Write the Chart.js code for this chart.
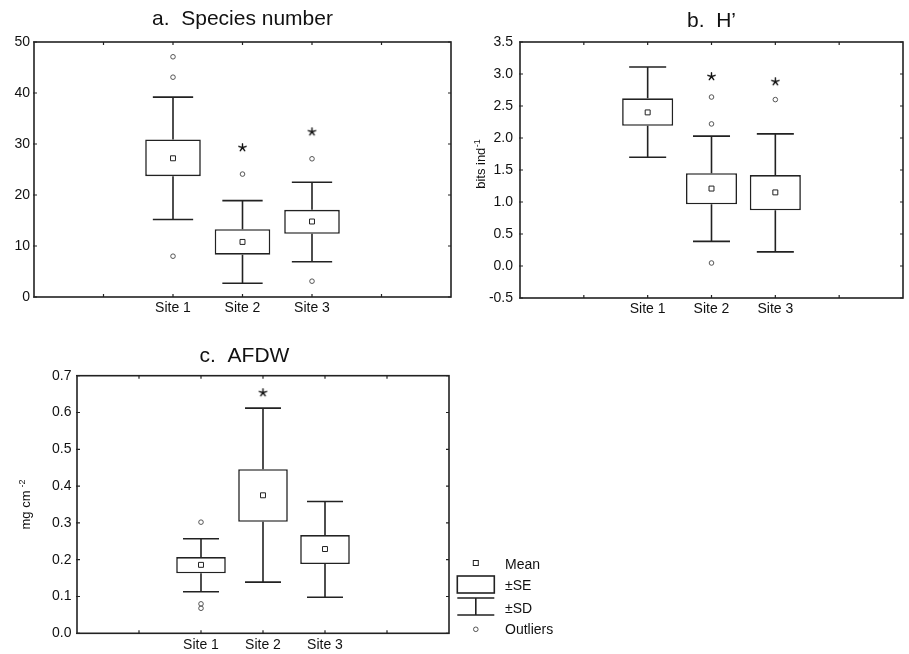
<!DOCTYPE html>
<html>
<head>
<meta charset="utf-8">
<script src="https://cdn.jsdelivr.net/npm/chart.js@4.4.1/dist/chart.umd.min.js"></script>
<style>
html,body{margin:0;padding:0;background:#fff;}
body{width:909px;height:654px;position:relative;overflow:hidden;}
.panel{position:absolute;}
#boxA{left:0;top:0;width:460px;height:325px;}
#boxB{left:455px;top:0;width:454px;height:325px;}
#boxC{left:0;top:330px;width:600px;height:324px;}
</style>
</head>
<body>
<div class="panel" id="boxA"><canvas id="chartA"></canvas></div>
<div class="panel" id="boxB"><canvas id="chartB"></canvas></div>
<div class="panel" id="boxC"><canvas id="chartC"></canvas></div>
<script>
// categories sit at x = 2,3,4 on a 0..6 axis (ticks every 1)
const sites = ['Site 1', 'Site 2', 'Site 3'];
const siteX = [2, 3, 4];

// a. Species number
const spMean = [27.2, 10.8, 14.8];
const spSeLo = [23.7, 8.3, 12.4];
const spSeHi = [30.9, 13.3, 17.1];
const spSdLo = [15.2, 2.7, 6.9];
const spSdHi = [39.2, 18.9, 22.5];
const spOut = [[47.1, 43.1, 8.0], [24.1], [27.1, 3.1]];
const spStar = [null, 29.3, 32.4];

// b. H'
const hMean = [2.40, 1.21, 1.15];
const hSeLo = [2.19, 0.965, 0.87];
const hSeHi = [2.62, 1.45, 1.42];
const hSdLo = [1.70, 0.385, 0.22];
const hSdHi = [3.11, 2.03, 2.065];
const hOut = [[], [2.64, 2.22, 0.047], [2.60]];
const hStar = [null, 2.96, 2.88];

// c. AFDW
const afMean = [0.186, 0.375, 0.229];
const afSeLo = [0.163, 0.303, 0.188];
const afSeHi = [0.207, 0.446, 0.267];
const afSdLo = [0.113, 0.139, 0.098];
const afSdHi = [0.257, 0.612, 0.358];
const afOut = [[0.302, 0.080, 0.068], [], []];
const afStar = [null, 0.654, null];

const FONT = '"Liberation Sans", Arial, Helvetica, sans-serif';
const LINE = '#222';
Chart.defaults.font.family = FONT;

function asterisk(){
	const c = document.createElement('canvas');
	c.width = 11; c.height = 11;
	const g = c.getContext('2d');
	g.strokeStyle = '#111'; g.lineWidth = 1.4; g.lineCap = 'round';
	g.beginPath();
	for (let k = 0; k < 5; k++) {
		const ang = -Math.PI / 2 + k * 2 * Math.PI / 5;
		g.moveTo(5.5, 5.5);
		g.lineTo(5.5 + 3.8 * Math.cos(ang), 5.5 + 3.8 * Math.sin(ang));
	}
	g.stroke();
	return c;
}
const STAR = asterisk();

// whiskers from SE box edge to SD, with caps
const whiskerPlugin = {
	id: 'whiskers',
	afterDatasetsDraw(chart, args, opts) {
		const {ctx, scales: {x, y}} = chart;
		ctx.save();
		ctx.strokeStyle = LINE;
		ctx.lineWidth = 1.6;
		siteX.forEach((sx, i) => {
			const px = x.getPixelForValue(sx);
			const half = x.getPixelForValue(sx + 0.29) - px;
			[[opts.seLo[i], opts.sdLo[i]], [opts.seHi[i], opts.sdHi[i]]].forEach(([from, to]) => {
				const p0 = y.getPixelForValue(from), p1 = y.getPixelForValue(to);
				ctx.beginPath();
				ctx.moveTo(px, p0); ctx.lineTo(px, p1);
				ctx.moveTo(px - half, p1); ctx.lineTo(px + half, p1);
				ctx.stroke();
			});
		});
		ctx.restore();
	}
};

// closed frame with small inward ticks on all four sides
const framePlugin = {
	id: 'frame',
	afterDraw(chart) {
		const {ctx, chartArea: a, scales: {x, y}} = chart;
		ctx.save();
		ctx.strokeStyle = LINE;
		ctx.lineWidth = 1.6;
		ctx.strokeRect(a.left, a.top, a.right - a.left, a.bottom - a.top);
		ctx.lineWidth = 1.2;
		ctx.beginPath();
		x.ticks.forEach(t => {
			if (t.value <= x.min || t.value >= x.max) return;
			const px = x.getPixelForValue(t.value);
			ctx.moveTo(px, a.bottom); ctx.lineTo(px, a.bottom - 3);
			ctx.moveTo(px, a.top); ctx.lineTo(px, a.top + 3);
		});
		y.ticks.forEach(t => {
			const py = y.getPixelForValue(t.value);
			ctx.moveTo(a.left - 1, py); ctx.lineTo(a.left + 3, py);
			ctx.moveTo(a.right, py); ctx.lineTo(a.right - 3, py);
		});
		ctx.stroke();
		ctx.restore();
	}
};

// rotated unit label with superscript
const unitPlugin = {
	id: 'unitLabel',
	afterDraw(chart, args, opts) {
		if (!opts.main) return;
		const {ctx, chartArea: a} = chart;
		ctx.save();
		ctx.translate(a.left + opts.dx, (a.top + a.bottom) / 2 + opts.dy);
		ctx.rotate(-Math.PI / 2);
		ctx.fillStyle = '#111';
		ctx.textBaseline = 'alphabetic';
		ctx.font = '13px ' + FONT;
		const w1 = ctx.measureText(opts.main).width;
		ctx.font = '9px ' + FONT;
		const w2 = ctx.measureText(opts.sup).width;
		const start = -(w1 + w2 + opts.gap) / 2;
		ctx.font = '13px ' + FONT;
		ctx.fillText(opts.main, start, 4.5);
		ctx.font = '9px ' + FONT;
		ctx.fillText(opts.sup, start + w1 + opts.gap, 0);
		ctx.restore();
	}
};

// key: Mean / ±SE / ±SD / Outliers
const keyPlugin = {
	id: 'boxKey',
	afterDraw(chart, args, opts) {
		if (!opts.show) return;
		const {ctx, chartArea: a} = chart;
		const x0 = a.right + 8.3, x1 = a.right + 45.3, cx = (x0 + x1) / 2, tx = a.right + 56;
		const b = a.bottom;
		ctx.save();
		ctx.strokeStyle = LINE;
		ctx.fillStyle = '#fff';
		ctx.lineWidth = 1;
		ctx.strokeRect(cx - 2.5, b - 72.8, 5, 5);
		ctx.lineWidth = 1.6;
		ctx.strokeRect(x0, b - 57.3, x1 - x0, 17);
		ctx.beginPath();
		ctx.moveTo(x0, b - 35.3); ctx.lineTo(x1, b - 35.3);
		ctx.moveTo(cx, b - 35.3); ctx.lineTo(cx, b - 18.3);
		ctx.moveTo(x0, b - 18.3); ctx.lineTo(x1, b - 18.3);
		ctx.stroke();
		ctx.lineWidth = 0.9;
		ctx.strokeStyle = '#444';
		ctx.beginPath();
		ctx.arc(cx, b - 4, 2.3, 0, Math.PI * 2);
		ctx.stroke();
		ctx.fillStyle = '#111';
		ctx.font = '14px ' + FONT;
		ctx.textBaseline = 'middle';
		ctx.fillText('Mean', tx, b - 68);
		ctx.fillText('\u00b1SE', tx, b - 47);
		ctx.fillText('\u00b1SD', tx, b - 24.5);
		ctx.fillText('Outliers', tx, b - 3.5);
		ctx.restore();
	}
};

function boxPanel(id, p){
	const outPts = [];
	p.out.forEach((vals, i) => vals.forEach(v => outPts.push({x: siteX[i], y: v})));
	const starPts = [];
	p.star.forEach((v, i) => { if (v !== null) starPts.push({x: siteX[i], y: v}); });
	return new Chart(document.getElementById(id), {
		type: 'bar',
		data: {
			datasets: [
				{
					type: 'bar',
					order: 1,
					data: siteX.map((x, i) => ({x: x, y: [p.seLo[i], p.seHi[i]]})),
					backgroundColor: '#fff',
					borderColor: LINE,
					borderWidth: 1.6,
					borderSkipped: false,
					categoryPercentage: 1,
					barPercentage: 0.8
				},
				{
					type: 'scatter',
					order: 0,
					data: siteX.map((x, i) => ({x: x, y: p.mean[i]})),
					pointStyle: 'rect',
					pointRadius: 3.5,
					pointBorderWidth: 1,
					pointBorderColor: LINE,
					pointBackgroundColor: '#fff'
				},
				{
					type: 'scatter',
					order: 0,
					data: outPts,
					pointStyle: 'circle',
					pointRadius: 2.3,
					pointBorderWidth: 0.9,
					pointBorderColor: '#444',
					pointBackgroundColor: 'rgba(255,255,255,0)'
				},
				{
					type: 'scatter',
					order: 0,
					data: starPts,
					pointStyle: STAR,
					pointRadius: 5
				}
			]
		},
		options: {
			responsive: true,
			maintainAspectRatio: false,
			animation: false,
			events: [],
			layout: {padding: {left: p.padL, right: p.padR, top: 0, bottom: 0}},
			scales: {
				x: {
					type: 'linear', min: 0, max: 6, offset: false,
					grid: {display: false, drawTicks: false}, border: {display: false},
					ticks: {
						stepSize: 1, autoSkip: false, maxRotation: 0, padding: 3,
						color: '#111', font: {size: 14},
						callback: v => { const i = siteX.indexOf(v); return i < 0 ? '' : sites[i]; }
					},
					afterFit: s => { s.height = p.xH; }
				},
				y: {
					type: 'linear', min: p.yMin, max: p.yMax,
					grid: {display: false, drawTicks: false}, border: {display: false},
					ticks: {
						stepSize: p.yStep, padding: p.yPad, color: '#111', font: {size: 14},
						callback: v => v.toFixed(p.dec)
					},
					afterFit: s => { s.width = p.yW; }
				}
			},
			plugins: {
				legend: {display: false},
				tooltip: {enabled: false},
				title: {
					display: true, text: p.title, fullSize: p.fullSize, color: '#111',
					font: {size: 21, weight: 'normal'},
					padding: {top: p.tTop, bottom: p.tBot}
				},
				whiskers: {seLo: p.seLo, seHi: p.seHi, sdLo: p.sdLo, sdHi: p.sdHi},
				unitLabel: p.unit || {},
				boxKey: {show: !!p.key}
			}
		},
		plugins: [whiskerPlugin, framePlugin, unitPlugin, keyPlugin]
	});
}

boxPanel('chartA', {
	title: 'a.  Species number', mean: spMean, seLo: spSeLo, seHi: spSeHi, sdLo: spSdLo, sdHi: spSdHi,
	out: spOut, star: spStar, yMin: 0, yMax: 50, yStep: 10, dec: 0,
	padL: 0, padR: 9, yW: 34, yPad: 4, xH: 28, tTop: 6.4, tBot: 10.4, fullSize: false
});
boxPanel('chartB', {
	title: 'b.  H\u2019', mean: hMean, seLo: hSeLo, seHi: hSeHi, sdLo: hSdLo, sdHi: hSdHi,
	out: hOut, star: hStar, yMin: -0.5, yMax: 3.5, yStep: 0.5, dec: 1,
	padL: 0, padR: 2, yW: 65, yPad: 7, xH: 27, tTop: 8.7, tBot: 8.1, fullSize: false,
	unit: {main: 'bits ind', sup: '-1', gap: 0.5, dx: -40, dy: -6}
});
boxPanel('chartC', {
	title: 'c.  AFDW', mean: afMean, seLo: afSeLo, seHi: afSeHi, sdLo: afSdLo, sdHi: afSdHi,
	out: afOut, star: afStar, yMin: 0, yMax: 0.7, yStep: 0.1, dec: 1,
	padL: 40, padR: 151, yW: 37, yPad: 5.5, xH: 20.7, tTop: 13.4, tBot: 7.1, fullSize: true,
	unit: {main: 'mg cm', sup: '-2', gap: 3, dx: -52, dy: 0},
	key: true
});
</script>
</body>
</html>
